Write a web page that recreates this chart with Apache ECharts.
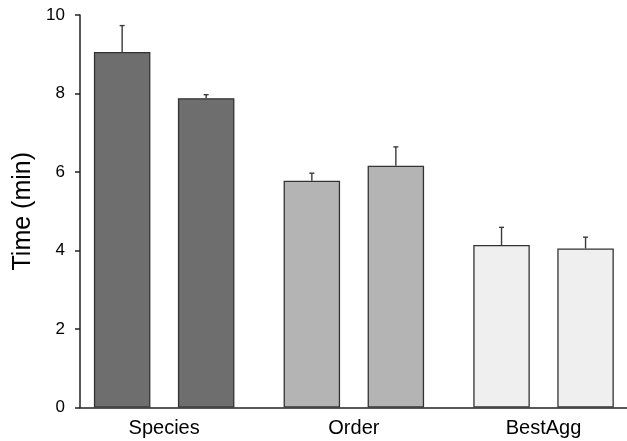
<!DOCTYPE html>
<html>
<head>
<meta charset="utf-8">
<script src="https://cdn.jsdelivr.net/npm/echarts@6/dist/echarts.min.js"></script>
<style>
html,body{margin:0;padding:0;background:#fff;}
#chart{width:627px;height:441px;}
</style>
</head>
<body>
<div id="chart"></div>
<script>
var categories = ['Species', 'Order', 'BestAgg'];
var firstBar = [9.06, 5.78, 4.14];
var secondBar = [7.88, 6.16, 4.05];
var firstErr = [0.67, 0.19, 0.45];
var secondErr = [0.09, 0.48, 0.29];
var groupColors = ['#6e6e6e', '#b4b4b4', '#efefef'];
var yTicks = [0, 2, 4, 6, 8, 10];

var FONT = 'Liberation Sans, Arial, Helvetica, sans-serif';
var BAR_W = 56.5;
var BAR_GAP = '48.7%';
var HALF_OFF = BAR_W * 1.487 / 2;

function barData(vals) {
  return vals.map(function (v, i) {
    return { value: v, itemStyle: { color: groupColors[i] } };
  });
}
function errData(vals, errs) {
  return vals.map(function (v, i) { return [i, v, v + errs[i]]; });
}
function errRender(sign) {
  return function (params, api) {
    var c = api.value(0);
    var p0 = api.coord([c, api.value(1)]);
    var p1 = api.coord([c, api.value(2)]);
    var x = p0[0] + sign * HALF_OFF;
    var st = { stroke: '#3a3a3a', lineWidth: 1.4 };
    return {
      type: 'group',
      children: [
        { type: 'line', shape: { x1: x, y1: p0[1], x2: x, y2: p1[1] }, style: st },
        { type: 'line', shape: { x1: x - 2.5, y1: p1[1], x2: x + 2.5, y2: p1[1] }, style: st }
      ]
    };
  };
}

var chart = echarts.init(document.getElementById('chart'));
chart.setOption({
  animation: false,
  backgroundColor: '#fff',
  textStyle: { fontFamily: FONT },
  grid: [
    { left: 69.3, right: -11.4, top: 15, bottom: 33.5, outerBoundsMode: 'none', containLabel: false },
    { left: 80, right: 0, top: 15, bottom: 33.5, outerBoundsMode: 'none', containLabel: false }
  ],
  xAxis: [
    {
      type: 'category', gridIndex: 0, data: categories,
      axisLine: { show: false }, axisTick: { show: false },
      axisLabel: { show: true, color: '#000', fontSize: 20, fontFamily: FONT, margin: 11 }
    },
    {
      type: 'category', gridIndex: 1, data: categories,
      axisLine: { show: true, lineStyle: { color: '#222', width: 1.5 } },
      axisTick: { show: false }, axisLabel: { show: false }
    }
  ],
  yAxis: [
    {
      type: 'value', gridIndex: 0, min: yTicks[0], max: yTicks[yTicks.length - 1], interval: 2,
      show: false, splitLine: { show: false }
    },
    {
      type: 'value', gridIndex: 1, min: yTicks[0], max: yTicks[yTicks.length - 1], interval: 2,
      name: 'Time (min)', nameLocation: 'middle', nameGap: 43,
      nameTextStyle: { color: '#000', fontSize: 25, fontFamily: FONT },
      axisLine: { show: true, lineStyle: { color: '#222', width: 1.5 } },
      axisTick: { show: true, inside: false, length: 5, lineStyle: { color: '#222', width: 1.5 } },
      axisLabel: { color: '#000', fontSize: 17, fontFamily: FONT, margin: 15 },
      splitLine: { show: false }
    }
  ],
  series: [
    {
      type: 'bar', xAxisIndex: 0, yAxisIndex: 0, data: barData(firstBar),
      barWidth: BAR_W, barGap: BAR_GAP,
      itemStyle: { borderColor: '#333', borderWidth: 1.3 }
    },
    {
      type: 'bar', xAxisIndex: 0, yAxisIndex: 0, data: barData(secondBar),
      barWidth: BAR_W, barGap: BAR_GAP,
      itemStyle: { borderColor: '#333', borderWidth: 1.3 }
    },
    {
      type: 'custom', xAxisIndex: 0, yAxisIndex: 0,
      data: errData(firstBar, firstErr), renderItem: errRender(-1), z: 5
    },
    {
      type: 'custom', xAxisIndex: 0, yAxisIndex: 0,
      data: errData(secondBar, secondErr), renderItem: errRender(1), z: 5
    }
  ]
});
</script>
</body>
</html>
